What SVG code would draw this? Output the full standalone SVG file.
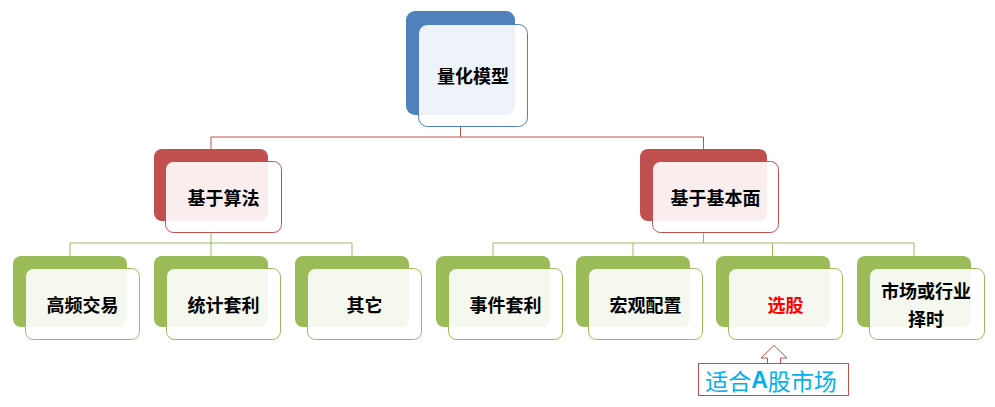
<svg xmlns="http://www.w3.org/2000/svg" width="995" height="407" viewBox="0 0 995 407">
<style>
.t{font-family:"Noto Sans CJK SC","Noto Sans",sans-serif;font-weight:bold;font-size:18px;fill:#000;text-anchor:middle;dominant-baseline:central}
.blue .b{fill:#4F81BD}.blue .f{fill:#fff;fill-opacity:0.9;stroke:#4F81BD}
.red .b{fill:#C0504D}.red .f{fill:#fff;fill-opacity:0.9;stroke:#C0504D}
.green .b{fill:#9BBB59}.green .f{fill:#fff;fill-opacity:0.9;stroke:#9BBB59}
.f{stroke-width:1}
</style>
<rect width="995" height="407" fill="#fff"/>
<g id="connectors" fill="none">
<path d="M460.5 127V137M211 137H703.5M211 137V149M703.5 137V149" stroke="#C0504D"/>
<path d="M211 233V243M70 243H352M70 243V256M211 243V256M352 243V256" stroke="#9BBB59"/>
<path d="M703.5 233V243M493 243H914M493 243V256M633 243V256M772.5 243V256M914 243V256" stroke="#9BBB59"/>
</g>
<g id="n0" class="blue"><rect class="b" x="406" y="11" width="109" height="104" rx="9"/><rect class="f" x="418.5" y="24.5" width="109" height="102" rx="9"/><text class="t" x="473" y="75">量化模型</text></g>
<g id="n1" class="red"><rect class="b" x="154" y="149" width="114" height="72" rx="8"/><rect class="f" x="165.5" y="161.5" width="116" height="71" rx="8"/><text class="t" x="223.5" y="197">基于算法</text></g>
<g id="n2" class="red"><rect class="b" x="640" y="149" width="127" height="72" rx="8"/><rect class="f" x="652.5" y="161.5" width="126" height="71" rx="8"/><text class="t" x="715.5" y="197">基于基本面</text></g>
<g id="n3" class="green"><rect class="b" x="13" y="256" width="114" height="71" rx="8"/><rect class="f" x="25.5" y="268.5" width="114" height="71" rx="8"/><text class="t" x="82.5" y="304">高频交易</text></g>
<g id="n4" class="green"><rect class="b" x="154" y="256" width="114" height="71" rx="8"/><rect class="f" x="166.5" y="268.5" width="114" height="71" rx="8"/><text class="t" x="223.5" y="304">统计套利</text></g>
<g id="n5" class="green"><rect class="b" x="295" y="256" width="114" height="71" rx="8"/><rect class="f" x="307.5" y="268.5" width="114" height="71" rx="8"/><text class="t" x="364.5" y="304">其它</text></g>
<g id="n6" class="green"><rect class="b" x="436" y="256" width="114" height="71" rx="8"/><rect class="f" x="448.5" y="268.5" width="114" height="71" rx="8"/><text class="t" x="505.5" y="304">事件套利</text></g>
<g id="n7" class="green"><rect class="b" x="576" y="256" width="114" height="71" rx="8"/><rect class="f" x="588.5" y="268.5" width="114" height="71" rx="8"/><text class="t" x="645.5" y="304">宏观配置</text></g>
<g id="n8" class="green"><rect class="b" x="716" y="256" width="114" height="71" rx="8"/><rect class="f" x="728.5" y="268.5" width="114" height="71" rx="8"/><text class="t" x="785.5" y="304" style="fill:#FF0000">选股</text></g>
<g id="n9" class="green"><rect class="b" x="857" y="256" width="114" height="71" rx="8"/><rect class="f" x="869.5" y="268.5" width="115" height="71" rx="8"/><text class="t" x="926" y="290">市场或行业</text><text class="t" x="926" y="318">择时</text></g>
<g id="callout">
<path d="M774 345.5L787 358H780.5V363M767.5 363V358H761L774 345.5" fill="#fff" stroke="#C0504D"/>
<rect x="698.5" y="363.5" width="150" height="32" fill="#fff" stroke="#C0504D"/>
<text x="771" y="380" font-family="'Noto Sans CJK SC','Noto Sans',sans-serif" font-size="23" fill="#00B0F0" text-anchor="middle" dominant-baseline="central">适合<tspan font-weight="bold" font-family="'Liberation Sans',sans-serif">A</tspan>股市场</text>
</g>
</svg>
